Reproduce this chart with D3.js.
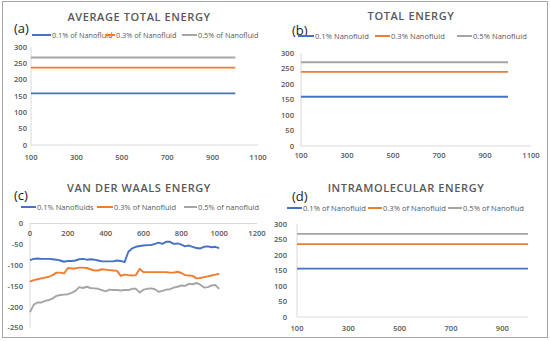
<!DOCTYPE html>
<html>
<head>
<meta charset="utf-8">
<script src="https://cdn.jsdelivr.net/npm/d3@7"></script>
<style>
  body { margin: 0; background: #fff; }
  svg text { font-family: "Open Sans", "Noto Sans", sans-serif; }
</style>
</head>
<body>
<div id="chart"></div>
<script>
const colors = ["#4472C4", "#ED7D31", "#A5A5A5"];

// panel (a)
const legendA = ["0.1% of Nanofluid", "0.3% of Nanofluid", "0.5% of Nanofluid"];
const stepsA = [100, 200, 300, 400, 500, 600, 700, 800, 900, 1000];
const avgTotal01 = [158, 158, 158, 158, 158, 158, 158, 158, 158, 158];
const avgTotal03 = [237, 237, 237, 237, 237, 237, 237, 237, 237, 237];
const avgTotal05 = [268, 268, 268, 268, 268, 268, 268, 268, 268, 268];
const ticksA = [100, 300, 500, 700, 900, 1100];

// panel (b)
const legendB = ["0.1% Nanofluid", "0.3% Nanofluid", "0.5% Nanofluid"];
const stepsB = [100, 200, 300, 400, 500, 600, 700, 800, 900, 1000];
const total01 = [159, 159, 159, 159, 159, 159, 159, 159, 159, 159];
const total03 = [239, 239, 239, 239, 239, 239, 239, 239, 239, 239];
const total05 = [270, 270, 270, 270, 270, 270, 270, 270, 270, 270];
const ticksB = [100, 300, 500, 700, 900, 1100];

// panel (c)
const legendC = ["0.1% Nanofluids", "0.3% of Nanofluid", "0.5% of nanofluid"];
const stepsC = [0, 20, 40, 60, 80, 100, 120, 140, 160, 180, 200, 220, 240, 260, 280, 300, 320, 340, 360, 380,
  400, 420, 440, 460, 480, 500, 520, 540, 560, 580, 600, 620, 640, 660, 680, 700, 720, 740, 760, 780,
  800, 820, 840, 860, 880, 900, 920, 940, 960, 980, 1000];
const vdw01 = [-88, -85, -84, -85, -85, -85, -86, -87, -89, -92, -90, -90, -89, -86, -85, -87, -86, -87, -89, -91,
  -91, -91, -91, -89, -90, -93, -68, -60, -56, -54, -53, -52, -52, -49, -46, -49, -44, -44, -49, -48,
  -51, -55, -53, -56, -59, -60, -56, -55, -57, -56, -59];
const vdw03 = [-140, -136, -134, -132, -130, -128, -124, -118, -118, -120, -107, -108, -108, -106, -106, -107, -110, -113, -113, -110,
  -111, -112, -113, -114, -126, -123, -124, -125, -124, -109, -117, -117, -117, -117, -117, -117, -117, -118, -118, -116,
  -119, -124, -125, -126, -132, -131, -129, -127, -125, -123, -121];
const vdw05 = [-213, -195, -190, -190, -186, -184, -180, -174, -172, -171, -170, -167, -162, -153, -155, -152, -155, -156, -157, -160,
  -163, -159, -160, -160, -161, -160, -160, -157, -157, -166, -159, -157, -156, -158, -164, -162, -159, -158, -154, -152,
  -149, -150, -145, -146, -143, -147, -154, -153, -149, -148, -157];
const ticksC = [0, 200, 400, 600, 800, 1000, 1200];
const yTicksC = [0, -50, -100, -150, -200, -250];

// panel (d)
const legendD = ["0.1% of Nanofluid", "0.3% of Nanofluid", "0.5% of Nanoflud"];
const stepsD = [100, 200, 300, 400, 500, 600, 700, 800, 900, 1000];
const intra01 = [156, 156, 156, 156, 156, 156, 156, 156, 156, 156];
const intra03 = [235, 235, 235, 235, 235, 235, 235, 235, 235, 235];
const intra05 = [268, 268, 268, 268, 268, 268, 268, 268, 268, 268];
const ticksD = [100, 300, 500, 700, 900];

const yTicksPos = [0, 50, 100, 150, 200, 250, 300];

const svg = d3.select("#chart").append("svg")
  .attr("width", 550)
  .attr("height", 341);

// outer frame
svg.append("rect")
  .attr("x", 2.5).attr("y", 1.5)
  .attr("width", 545).attr("height", 336)
  .attr("fill", "none")
  .attr("stroke", "#a6a6a6")
  .attr("stroke-width", 1);

function drawPanel(p) {
  const g = svg.append("g");

  const x = d3.scaleLinear().domain(p.xDomain).range(p.xRange);
  const y = d3.scaleLinear().domain(p.yDomain).range(p.yRange);

  // title + panel letter
  g.append("text")
    .attr("x", p.titleX).attr("y", p.titleY)
    .attr("text-anchor", "middle")
    .attr("font-size", 11).attr("font-weight", 600)
    .attr("letter-spacing", 0.6)
    .attr("fill", "#595959")
    .text(p.title);
  g.append("text")
    .attr("x", p.letterX).attr("y", p.letterY)
    .attr("font-size", 13)
    .attr("fill", "#1a1a1a")
    .text(p.letter);

  // legend
  p.legend.forEach((name, i) => {
    const lx = p.legendX[i];
    g.append("line")
      .attr("x1", lx[0]).attr("x2", lx[1])
      .attr("y1", p.legendY).attr("y2", p.legendY)
      .attr("stroke", colors[i]).attr("stroke-width", 2);
    g.append("text")
      .attr("x", lx[1] + 1).attr("y", p.legendY + 2.7)
      .attr("font-size", p.legendSize)
      .attr("fill", "#595959")
      .text(name);
  });

  // axes lines
  const xAxisY = y(p.xAxisAt);
  g.append("line")
    .attr("x1", p.xRange[0]).attr("x2", p.axisEnd)
    .attr("y1", xAxisY).attr("y2", xAxisY)
    .attr("stroke", "#d9d9d9");
  g.append("line")
    .attr("x1", p.xRange[0]).attr("x2", p.xRange[0])
    .attr("y1", p.yRange[0]).attr("y2", p.yRange[1])
    .attr("stroke", "#d9d9d9");

  // tick labels
  g.selectAll(".xt").data(p.xTicks).enter().append("text")
    .attr("x", d => x(d)).attr("y", p.xLabelY)
    .attr("text-anchor", "middle")
    .attr("font-size", 7.6).attr("font-weight", 600)
    .attr("fill", "#595959")
    .text(d => d);
  g.selectAll(".yt").data(p.yTicks).enter().append("text")
    .attr("x", p.yLabelX).attr("y", d => y(d) + 2.8)
    .attr("text-anchor", "end")
    .attr("font-size", 7.6).attr("font-weight", 600)
    .attr("fill", "#595959")
    .text(d => d);

  // series
  const line = d3.line()
    .x(d => x(d[0]))
    .y(d => y(d[1]));
  p.series.forEach((vals, i) => {
    g.append("path")
      .datum(p.steps.map((s, j) => [s, vals[j]]))
      .attr("fill", "none")
      .attr("stroke", colors[i])
      .attr("stroke-width", 1.9)
      .attr("stroke-linejoin", "round")
      .attr("d", line);
  });
}

drawPanel({
  title: "AVERAGE TOTAL ENERGY", titleX: 139, titleY: 21,
  letter: "(a)", letterX: 14, letterY: 33,
  legend: legendA, legendSize: 7.3, legendY: 35, legendX: [[32, 51], [106, 115], [182, 197]],
  xDomain: [100, 1100], xRange: [31, 258], axisEnd: 258,
  yDomain: [0, 300], yRange: [145, 47], xAxisAt: 0,
  xTicks: ticksA, yTicks: yTicksPos, xLabelY: 160, yLabelX: 27,
  steps: stepsA, series: [avgTotal01, avgTotal03, avgTotal05]
});

drawPanel({
  title: "TOTAL ENERGY", titleX: 411, titleY: 20,
  letter: "(b)", letterX: 292, letterY: 35,
  legend: legendB, legendSize: 7.6, legendY: 36, legendX: [[298, 314], [375, 390], [457, 472]],
  xDomain: [100, 1100], xRange: [301, 531], axisEnd: 531,
  yDomain: [0, 300], yRange: [146, 53], xAxisAt: 0,
  xTicks: ticksB, yTicks: yTicksPos, xLabelY: 158, yLabelX: 294,
  steps: stepsB, series: [total01, total03, total05]
});

drawPanel({
  title: "VAN DER WAALS ENERGY", titleX: 139, titleY: 192,
  letter: "(c)", letterX: 14, letterY: 200,
  legend: legendC, legendSize: 7.5, legendY: 207, legendX: [[21, 36], [97, 113], [184, 197]],
  xDomain: [0, 1200], xRange: [30, 257], axisEnd: 257,
  yDomain: [0, -250], yRange: [223.5, 327.5], xAxisAt: 0,
  xTicks: ticksC, yTicks: yTicksC, xLabelY: 236, yLabelX: 23,
  steps: stepsC, series: [vdw01, vdw03, vdw05]
});

drawPanel({
  title: "INTRAMOLECULAR ENERGY", titleX: 406, titleY: 192,
  letter: "(d)", letterX: 292, letterY: 201,
  legend: legendD, legendSize: 7.6, legendY: 208, legendX: [[287, 302], [368, 382], [448, 462]],
  xDomain: [100, 1000], xRange: [297, 528], axisEnd: 528,
  yDomain: [0, 300], yRange: [317, 224], xAxisAt: 0,
  xTicks: ticksD, yTicks: yTicksPos, xLabelY: 331, yLabelX: 287,
  steps: stepsD, series: [intra01, intra03, intra05]
});
</script>
</body>
</html>
